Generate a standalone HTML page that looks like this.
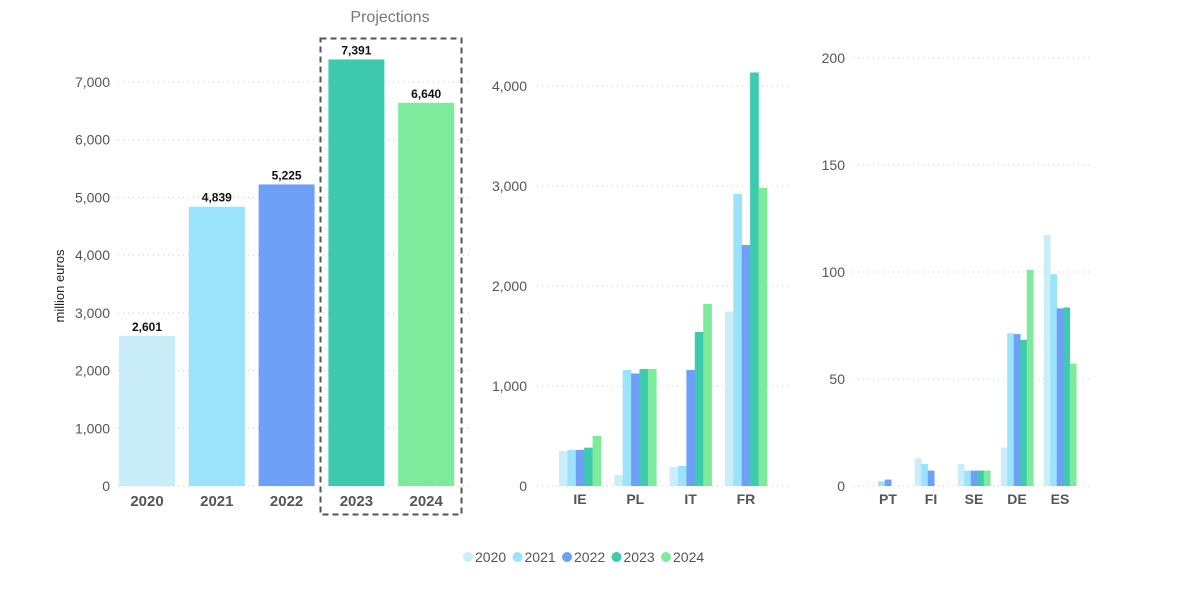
<!DOCTYPE html>
<html><head><meta charset="utf-8"><style>
body{margin:0;background:#fff;font-family:"Liberation Sans",sans-serif}
svg text{font-family:"Liberation Sans",sans-serif}
</style></head><body>
<svg id="c" width="1202" height="588" viewBox="0 0 1202 588" xmlns="http://www.w3.org/2000/svg"></svg>
<script>
const years=["2020","2021","2022","2023","2024"];
const colors=["#c9eefa","#9be3fb","#6fa0f7","#3ecbad","#7eeb9c"];
const totals=[2601,4839,5225,7391,6640];
const totalTicks=[0,1000,2000,3000,4000,5000,6000,7000];
const midCats=["IE","PL","IT","FR"];
const mid2020=[350,110,190,1745];
const mid2021=[360,1160,200,2920];
const mid2022=[360,1125,1160,2410];
const mid2023=[383,1170,1540,4135];
const mid2024=[500,1170,1820,2980];
const midTicks=[0,1000,2000,3000,4000];
const rightCats=["PT","FI","SE","DE","ES"];
const right2020=[0,12.9,10.3,18,117.3];
const right2021=[2.2,10.3,7.2,71.4,99];
const right2022=[3,7.2,7.2,71,83];
const right2023=[0,0,7.2,68.3,83.4];
const right2024=[0,0,7.2,101,57.2];
const rightTicks=[0,50,100,150,200];

const svg=document.getElementById('c');
const NS='http://www.w3.org/2000/svg';
function mk(tag,attrs,parent){const e=document.createElementNS(NS,tag);for(const k in attrs)e.setAttribute(k,attrs[k]);(parent||svg).appendChild(e);return e;}
function fmt(v){return v.toLocaleString('en-US');}
const Y0=486;

function grid(ticks,yScale,x1,x2,lx,pfx){
  ticks.forEach(t=>{const y=yScale(t);
    const l=mk('line',{x1:x1,x2:x2,y1:y,y2:y,stroke:'#c8c8c8','stroke-width':1,'stroke-dasharray':'1 4'});
    
    
    const tx=mk('text',{x:lx,y:y+5,'text-anchor':'end','font-size':14,fill:'#555'});
    tx.textContent=fmt(t);
    
    
  });
}

// Chart 1
const y1=v=>Y0-v*(404/7000);
const x1=i=>119+i*69.8;
grid(totalTicks,y1,118,472,110,'total');
totals.forEach((v,i)=>{
  const r=mk('rect',{x:x1(i),y:y1(v),width:56,height:Y0-y1(v),fill:colors[i]});
  
  
  const t=mk('text',{x:x1(i)+28,y:y1(v)-5,'text-anchor':'middle','font-size':12,'font-weight':'bold',fill:'#111'});
  t.textContent=fmt(v);
  
  
  const c=mk('text',{x:x1(i)+28,y:506,'text-anchor':'middle','font-size':15,'font-weight':'bold',fill:'#555'});
  c.textContent=years[i];
  
  
});
const yt=mk('text',{x:64,y:286,'text-anchor':'middle','font-size':13,fill:'#222',transform:'rotate(-90 64 286)'});
yt.textContent='million euros';


const box=mk('rect',{x:320.5,y:38.5,width:141,height:476,fill:'none',stroke:'#555','stroke-width':2,'stroke-dasharray':'6 4'});


const pt=mk('text',{x:390,y:22,'text-anchor':'middle','font-size':16,fill:'#777'});
pt.textContent='Projections';



// Chart 2
const y2=v=>Y0-v*(400/4000);
const cx2=i=>580+i*55.3;
grid(midTicks,y2,537,790,527,'mid');
const midSeries=[mid2020,mid2021,mid2022,mid2023,mid2024];
const bw2=8.4;
midCats.forEach((c,i)=>{
  midSeries.forEach((s,k)=>{
    const v=s[i];
    const r=mk('rect',{x:cx2(i)-2.5*bw2+k*bw2,y:y2(v),width:bw2+0.3,height:Y0-y2(v),fill:colors[k]});
    
    
  });
  const t=mk('text',{x:cx2(i),y:504,'text-anchor':'middle','font-size':14,'font-weight':'bold',fill:'#555'});
  t.textContent=c;
  
  
});

// Chart 3
const y3=v=>Y0-v*(428/200);
const cx3=i=>888+i*43;
grid(rightTicks,y3,853,1092,845,'right');
const rightSeries=[right2020,right2021,right2022,right2023,right2024];
const bw3=6.5;
rightCats.forEach((c,i)=>{
  rightSeries.forEach((s,k)=>{
    const v=s[i];
    if(v<=0)return;
    const r=mk('rect',{x:cx3(i)-2.5*bw3+k*bw3,y:y3(v),width:bw3+0.3,height:Y0-y3(v),fill:colors[k]});
    
    
  });
  const t=mk('text',{x:cx3(i),y:504,'text-anchor':'middle','font-size':14,'font-weight':'bold',fill:'#555'});
  t.textContent=c;
  
  
});

// Legend
years.forEach((y,i)=>{
  const x=468+i*49.5;
  const c=mk('circle',{cx:x,cy:557,r:5,fill:colors[i]});
  
  
  const t=mk('text',{x:x+7,y:562,'font-size':14,fill:'#555'});
  t.textContent=y;
  
  
});
</script>
</body></html>
